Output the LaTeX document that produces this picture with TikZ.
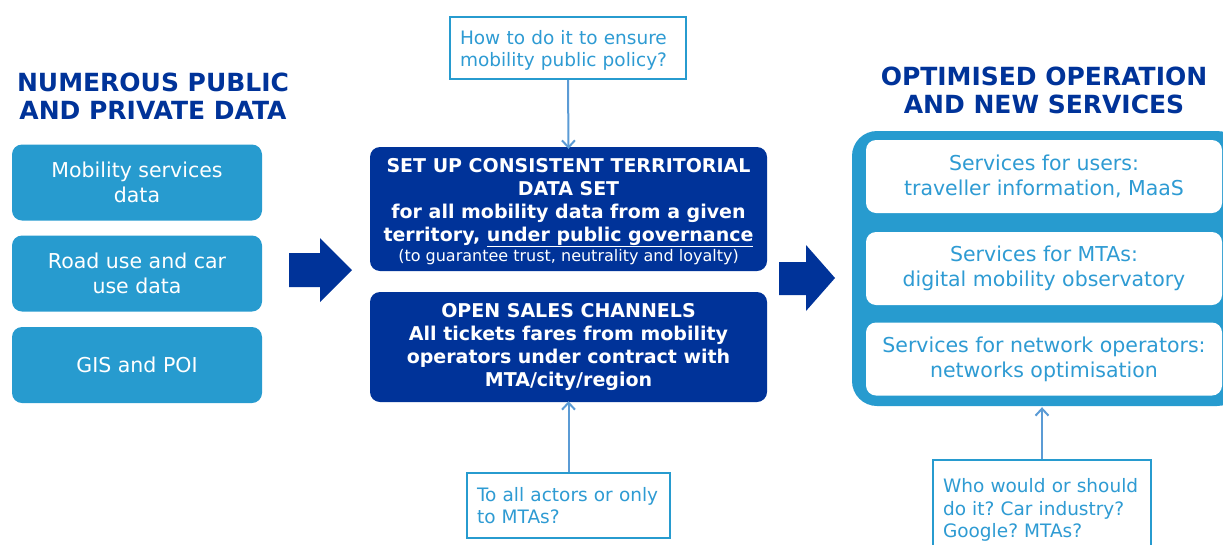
\documentclass[tikz,border=0pt]{standalone}
\usepackage{fontspec}
\setmainfont{DejaVu Sans}
\usetikzlibrary{arrows.meta}
\definecolor{dblue}{HTML}{003399}
\definecolor{mblue}{HTML}{279BCF}
\definecolor{lline}{HTML}{5B9BD5}
\definecolor{qtext}{HTML}{2E9BD3}
\frenchspacing
\begin{document}
\begin{tikzpicture}[x=1pt,y=-1pt,
 title/.style={text=dblue, font=\bfseries\fontsize{25}{28}\selectfont, align=center},
 databox/.style={fill=mblue, rounded corners=10pt, minimum width=250pt, minimum height=76pt, text=white, font=\fontsize{20.5}{24.5}\selectfont, align=center},
 darkbox/.style={fill=dblue, rounded corners=10pt, minimum width=397pt, text=white, font=\bfseries\fontsize{19}{22.7}\selectfont, align=center},
 darktext/.style={text=white, font=\bfseries\fontsize{19}{22.7}\selectfont, align=center},
 svcbox/.style={fill=white, rounded corners=10pt, minimum width=356pt, minimum height=73pt, text=qtext, font=\fontsize{20.5}{25}\selectfont, align=center},
 qbox/.style={draw=mblue, line width=2.2pt, fill=white, text=qtext, font=\fontsize{18.5}{22.5}\selectfont, align=left, inner xsep=10pt},
 conn/.style={draw=lline, line width=2pt, -{Straight Barb[length=7pt,width=13pt,line width=2pt]}},
 bigarrow/.style={fill=dblue}]
\useasboundingbox (0,0) rectangle (1223,544);
% left column
\node[title] (t1) at (153,96) {NUMEROUS PUBLIC\\AND PRIVATE DATA};
\node[databox] (b1) at (137,182.5) {Mobility services\\data};
\node[databox] (b2) at (137,273.5) {Road use and car\\use data};
\node[databox] (b3) at (137,365) {GIS and POI};
% big arrows
\fill[bigarrow] (289,253) -- (320,253) -- (320,238) -- (352,270) -- (320,302) -- (320,287) -- (289,287) -- cycle;
\fill[bigarrow] (779,262) -- (806,262) -- (806,245) -- (835,278) -- (806,311) -- (806,295) -- (779,295) -- cycle;
% middle column
\node[darkbox, minimum height=124pt] (d1) at (568.5,209) {};
\node[darktext] (d1t) at (568.5,212) {SET UP CONSISTENT TERRITORIAL\\DATA SET\\for all mobility data from a given\\territory, \underline{under public governance}\\[-2pt]{\mdseries\fontsize{16}{18}\selectfont (to guarantee trust, neutrality and loyalty)}};
\node[darkbox, minimum height=110pt] (d2) at (568.5,347) {OPEN SALES CHANNELS\\All tickets fares from mobility\\operators under contract with\\MTA/city/region};
\node[qbox, text width=216pt, minimum height=62pt] (q1) at (568,48) {\rule{0pt}{19pt}How to do it to ensure\\mobility public policy?};
\node[qbox, text width=183pt, minimum height=65pt] (q2) at (568.5,505.5) {To all actors or only\\to MTAs?};
\draw[conn] (q1.south) -- ([yshift=-2pt]d1.north);
\draw[conn] (q2.north) -- ([yshift=1pt]d2.south);
% right column
\node[title] (t2) at (1044,90) {OPTIMISED OPERATION\\AND NEW SERVICES};
\node[fill=mblue, rounded corners=25pt, minimum width=390pt, minimum height=275pt] (cont) at (1047,268.5) {};
\node[svcbox] (s1) at (1044,176.5) {Services for users:\\traveller information, MaaS};
\node[svcbox] (s2) at (1044,268.5) {Services for MTAs:\\digital mobility observatory};
\node[svcbox] (s3) at (1044,359) {Services for network operators:\\networks optimisation};
\node[qbox, text width=198pt, minimum height=100pt] (q3) at (1042,510) {Who would or should\\do it? Car industry?\\Google? MTAs?};
\draw[conn] (q3.north) -- ([yshift=-1pt]q3.north |- cont.south);
\end{tikzpicture}
\end{document}
